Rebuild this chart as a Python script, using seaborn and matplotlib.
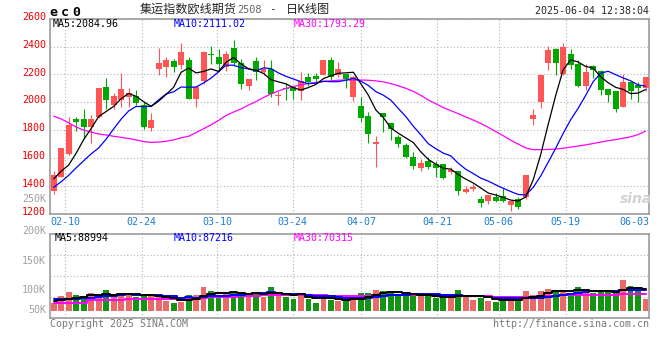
import numpy as np
import pandas as pd
import matplotlib
matplotlib.use("Agg")
import matplotlib.pyplot as plt
import matplotlib.transforms as mtrans
import seaborn as sns

# 日K数据 (02-06 ~ 06-04, 从图上读取)
open_px = [1361, 1462, 1629, 1877, 1877, 1820, 1896, 2113, 1982, 2016,
           2039, 2042, 1982, 1815, 2238, 2250, 2295, 2266, 2307, 2023,
           2154, 2350, 2326, 2254, 2393, 2285, 2118, 2293, 2219, 2242,
           2044, 2099, 2113, 2082, 2178, 2190, 2197, 2307, 2197, 2202,
           2039, 1975, 1903, 1700, 1920, 1853, 1748, 1693, 1610, 1528,
           1581, 1557, 1557, 1497, 1505, 1359, 1378, 1304, 1290, 1318,
           1325, 1266, 1306, 1318, 1879, 1999, 2285, 2381, 2202, 2350,
           2278, 2118, 2261, 2226, 2094, 2078, 1968, 2142, 2124, 2106]
high_px = [1509, 1672, 1891, 1896, 1951, 1910, 2100, 2171, 2063, 2207,
           2099, 2090, 1999, 1925, 2393, 2328, 2312, 2429, 2328, 2111,
           2365, 2405, 2381, 2369, 2445, 2309, 2164, 2326, 2302, 2305,
           2078, 2135, 2118, 2219, 2207, 2207, 2302, 2328, 2290, 2202,
           2190, 2039, 1927, 1755, 1920, 1853, 1767, 1705, 1641, 1593,
           1605, 1581, 1557, 1538, 1505, 1402, 1414, 1330, 1333, 1347,
           1385, 1294, 1318, 1476, 1951, 2197, 2402, 2388, 2429, 2381,
           2302, 2273, 2266, 2230, 2094, 2078, 2202, 2142, 2142, 2183]
low_px = [1342, 1460, 1625, 1796, 1736, 1705, 1890, 1951, 1951, 1968,
          1968, 1982, 1806, 1792, 2197, 2185, 2218, 2238, 2023, 1968,
          2130, 2273, 2221, 2226, 2261, 2094, 2087, 2159, 2197, 2035,
          1982, 2016, 2023, 2016, 2118, 2137, 2197, 2159, 2178, 2106,
          2011, 1856, 1705, 1533, 1784, 1729, 1676, 1600, 1521, 1509,
          1521, 1466, 1450, 1485, 1337, 1349, 1366, 1251, 1270, 1282,
          1285, 1218, 1235, 1306, 1836, 1958, 2230, 2197, 2197, 2238,
          2111, 2087, 2173, 2053, 1999, 1927, 1968, 2023, 1999, 2078]
close_px = [1481, 1669, 1836, 1858, 1820, 1877, 2099, 2016, 2042, 2094,
            2068, 1992, 1824, 1872, 2285, 2307, 2250, 2362, 2023, 2111,
            2362, 2338, 2273, 2350, 2285, 2130, 2164, 2219, 2238, 2059,
            2052, 2092, 2082, 2154, 2149, 2164, 2302, 2183, 2242, 2166,
            2185, 1887, 1772, 1712, 1896, 1808, 1700, 1605, 1545, 1562,
            1538, 1528, 1457, 1514, 1366, 1376, 1390, 1278, 1333, 1294,
            1290, 1294, 1246, 1476, 1908, 2197, 2374, 2285, 2400, 2269,
            2118, 2214, 2230, 2087, 2054, 1951, 2142, 2078, 2106, 2178]
volume = [35, 64, 81, 68, 58, 75, 64, 89, 58, 75,
          72, 58, 68, 64, 58, 44, 35, 39, 68, 68,
          103, 86, 64, 72, 81, 81, 67, 76, 61, 103,
          67, 61, 52, 76, 52, 34, 68, 49, 44, 49,
          49, 75, 75, 89, 86, 81, 71, 66, 66, 65,
          65, 54, 54, 54, 89, 68, 47, 57, 42, 37,
          58, 44, 44, 85, 68, 85, 93, 86, 89, 68,
          102, 93, 75, 86, 79, 79, 131, 106, 92, 51]  # 千手

# 均线: 窗口之前的历史数据看不到, 开头几天直接从图上读
ma5_head = [1450, 1505, 1550, 1635]
ma10_head = [1390, 1430, 1476, 1530, 1580, 1630, 1672, 1736, 1809]
ma30_px = [1900, 1880, 1852, 1822, 1800, 1786, 1772, 1765, 1756, 1748,
           1740, 1730, 1718, 1712, 1714, 1720, 1730, 1745, 1756, 1782,
           1810, 1838, 1870, 1905, 1930, 1952, 1980, 2005, 2034, 2060,
           2082, 2100, 2114, 2125, 2135, 2142, 2149, 2154, 2158, 2160,
           2160, 2160, 2158, 2154, 2146, 2134, 2118, 2100, 2078, 2050,
           2016, 1990, 1962, 1940, 1918, 1895, 1872, 1848, 1820, 1790,
           1760, 1728, 1700, 1672, 1660, 1660, 1661, 1664, 1670, 1678,
           1686, 1694, 1704, 1714, 1724, 1732, 1742, 1752, 1768, 1793]
vma5_head = [42, 47, 52, 57]
vma10_head = [50, 51, 52, 53, 55, 57, 59, 62, 64]
vma30_head = [35, 35, 35, 35, 35, 47, 47, 47, 47, 47,
              50, 50, 50, 50, 50, 52, 52, 52, 52, 56,
              56, 58, 58, 60, 60, 62, 62, 64, 66]

date_labels = ["02-10", "02-24", "03-10", "03-24", "04-07", "04-21", "05-06", "05-19"]
date_pos = [1.55, 11.75, 21.85, 31.9, 41.05, 51.15, 59.4, 68.35]
last_label, last_pos = "06-03", 77.5
price_ticks = [1200, 1400, 1600, 1800, 2000, 2200, 2400, 2600]

UP, DOWN = "#ff5555", "#00a800"
BLUE, MAG = "#0000ff", "#ff00ff"
GRID, FRAME = "#b4b4b4", "#9c9c9c"

sns.set_theme(style="white")
plt.rcParams["font.family"] = ["DejaVu Sans Mono"]
plt.rcParams["font.size"] = 7.2
CJK = ["Noto Sans CJK SC", "DejaVu Sans"]

df = pd.DataFrame({"o": open_px, "h": high_px, "l": low_px, "c": close_px,
                   "v": np.array(volume) * 1000})
df["i"] = np.arange(len(df))
df["dir"] = np.where(df["c"] >= df["o"], "up", "down")
n = len(df)

ma5 = df["c"].rolling(5).mean().to_numpy()
ma5[:4] = ma5_head
ma10 = df["c"].rolling(10).mean().to_numpy()
ma10[:9] = ma10_head
vma5 = df["v"].rolling(5).mean().to_numpy()
vma5[:4] = np.array(vma5_head) * 1000
vma10 = df["v"].rolling(10).mean().to_numpy()
vma10[:9] = np.array(vma10_head) * 1000
vma30 = df["v"].rolling(30).mean().to_numpy()
vma30[:29] = np.array(vma30_head) * 1000

W, H = 660, 360
fig = plt.figure(figsize=(W / 100, H / 100), dpi=100)
fig.patch.set_facecolor("white")


def box(l, t, r, b):
    return [l / W, 1 - b / H, (r - l) / W, (b - t) / H]


def px(x, y):
    return x / W, 1 - y / H


ax = fig.add_axes(box(50, 18.7, 649.3, 213.7))
ax2 = fig.add_axes(box(50, 234.3, 649.3, 317.7))

# ---- K线 ----
cols = np.where(df["dir"] == "up", UP, DOWN)
body_lo = np.minimum(df["o"], df["c"])
body_h = np.maximum(np.abs(df["c"] - df["o"]), 5)
ax.vlines(df["i"], df["l"], df["h"], colors=cols, lw=0.8, zorder=3)
ax.bar(df["i"], body_h, bottom=body_lo, width=0.8, color=cols, linewidth=0, zorder=4)

sns.lineplot(x=df["i"], y=ma30_px, color=MAG, lw=0.9, ax=ax, zorder=5)
sns.lineplot(x=df["i"], y=ma10, color=BLUE, lw=0.9, ax=ax, zorder=5)
sns.lineplot(x=df["i"], y=ma5, color="black", lw=0.9, ax=ax, zorder=5)

ax.set_xlim(-0.5, n - 0.5)
ax.set_ylim(1200, 2600)
ax.set_yticks(price_ticks)
ax.set_xticks(date_pos)
ax.set_xticklabels(date_labels)
ax.set_xlabel("")
ax.set_ylabel("")
ax.grid(True, ls=(0, (1, 2)), color=GRID, lw=0.8)
ax.tick_params(axis="y", length=0, pad=3, labelcolor="#ee0000", labelsize=7.2)
ax.tick_params(axis="x", length=0, pad=2.6, labelcolor="#1a7fd4", labelsize=7.2)
shift = mtrans.ScaledTranslation(0, 2 / 72, fig.dpi_scale_trans)
for lab in ax.get_yticklabels():
    lab.set_transform(lab.get_transform() + shift)
ax.text(last_pos, -0.041, last_label, transform=ax.get_xaxis_transform(),
        ha="center", va="center", color="#1a7fd4", fontsize=7.2)

# ---- 成交量 ----
sns.barplot(data=df, x="i", y="v", hue="dir", palette={"up": UP, "down": DOWN},
            dodge=False, width=0.78, errorbar=None, legend=False, native_scale=True,
            linewidth=0, ax=ax2, zorder=3)
sns.lineplot(x=df["i"], y=vma30, color=MAG, lw=1.4, drawstyle="steps-mid", ax=ax2, zorder=5)
sns.lineplot(x=df["i"], y=vma10, color=BLUE, lw=1.4, drawstyle="steps-mid", ax=ax2, zorder=5)
sns.lineplot(x=df["i"], y=vma5, color="black", lw=1.4, drawstyle="steps-mid", ax=ax2, zorder=5)
vlim = (-28000, 325000)
ax2.set_xlim(-0.5, n - 0.5)
ax2.set_ylim(*vlim)
ax2.set_yticks(np.linspace(vlim[0], vlim[1], 5)[1:-1])
ax2.set_xticks(date_pos)
ax2.set_xlabel("")
ax2.set_ylabel("")
ax2.grid(True, ls=(0, (1, 2)), color=GRID, lw=0.8)
ax2.tick_params(length=0, labelbottom=False, labelleft=False)

for a in (ax, ax2):
    for sp in a.spines.values():
        sp.set_color(FRAME)
        sp.set_linewidth(1.2)

# ---- 文字 ----
vol_labels = [("200K", 230.7), ("150K", 260.7), ("100K", 290.0), ("50K", 310.0), ("250K", 199.0)]
for s, y in vol_labels:
    fig.text(*px(46, y), s, ha="right", va="center", color="#a0a0a0", fontsize=7.2)

fig.text(*px(53, 23.7), "MA5:2084.96", color="black", va="center")
fig.text(*px(174, 23.7), "MA10:2111.02", color=BLUE, va="center")
fig.text(*px(294, 23.7), "MA30:1793.29", color=MAG, va="center")
fig.text(*px(55, 238.3), "MA5:88994", color="black", va="center")
fig.text(*px(174, 238.3), "MA10:87216", color=BLUE, va="center")
fig.text(*px(294, 238.3), "MA30:70315", color=MAG, va="center")

for k, ch in enumerate("ec0"):
    fig.text(*px(53.3 + 11.5 * k, 12), ch, ha="center", va="center",
             fontsize=9.5, fontweight="bold", color="black")
fig.text(*px(140, 9.5), "集运指数欧线期货", family=CJK, fontsize=8.7, va="center")
fig.text(*px(237.5, 10), "2508", color="#666666", va="center", fontsize=7.4)
fig.text(*px(272, 9.5), "-", va="center", ha="center", fontsize=8)
fig.text(*px(286, 9.5), "日K线图", family=CJK, fontsize=8.7, va="center")
fig.text(*px(649, 11), "2025-06-04 12:38:04", ha="right", va="center")

fig.text(*px(50, 323.7), "Copyright 2025 SINA.COM", color="#7a7a7a", va="center")
fig.text(*px(649.3, 323.7), "http://finance.sina.com.cn", color="#7a7a7a",
         ha="right", va="center")
fig.text(*px(636, 199), "sina", color="#d2d2d2", fontsize=10, fontweight="bold",
         style="italic", family=["DejaVu Sans"], ha="center", va="center")

fig.savefig("out.png", dpi=100, facecolor="white")
